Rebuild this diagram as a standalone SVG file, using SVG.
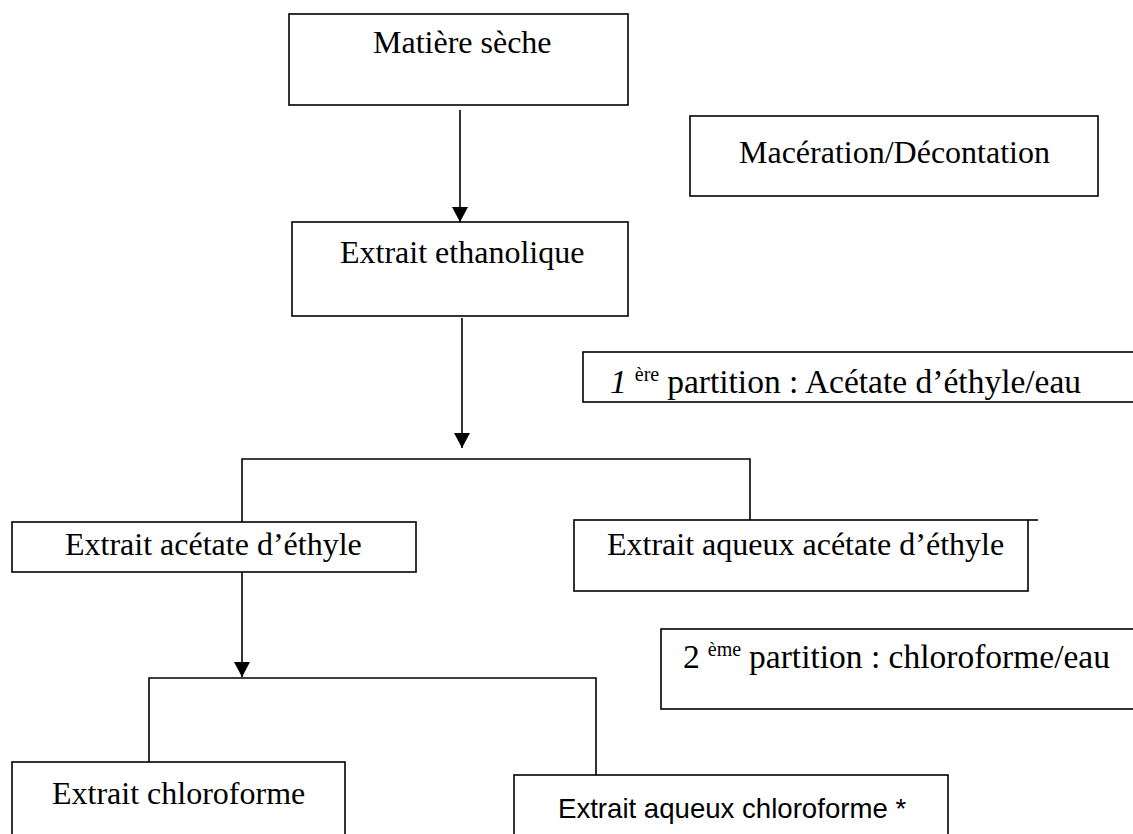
<svg xmlns="http://www.w3.org/2000/svg" width="1133" height="834" viewBox="0 0 1133 834">
<style>
.box{fill:#fff;stroke:#000;stroke-width:1.6}
.ln{fill:none;stroke:#000;stroke-width:1.6}
.t{font-family:"Liberation Serif","Times New Roman",serif;font-size:32px;fill:#000}
.p{font-family:"Liberation Serif","Times New Roman",serif;font-size:33.5px;fill:#000}
.s{font-size:20px}
.c{font-family:"Liberation Sans",Arial,sans-serif;font-size:27.6px;fill:#000}
</style>
<defs>
<marker id="ah" markerWidth="15" markerHeight="16" refX="15" refY="8" orient="auto" markerUnits="userSpaceOnUse">
<path d="M0,0 L15,8 L0,16 Z" fill="#000"/>
</marker>
</defs>
<rect width="1133" height="834" fill="#fff"/>
<g id="connectors">
<line class="ln" x1="460" y1="110" x2="460" y2="222" marker-end="url(#ah)"/>
<line class="ln" x1="462" y1="318" x2="462" y2="448" marker-end="url(#ah)"/>
<polyline class="ln" points="242,522 242,459 750,459 750,520"/>
<line class="ln" x1="242" y1="572" x2="242" y2="677" marker-end="url(#ah)"/>
<polyline class="ln" points="149,762 149,678 596,678 596,775"/>
</g>
<g id="n-matiere">
<rect class="box" x="289" y="14" width="339" height="91"/>
<text class="t" x="373" y="53">Matière sèche</text>
</g>
<g id="n-maceration">
<rect class="box" x="690" y="116" width="408" height="80"/>
<text class="t" x="739" y="163">Macération/Décontation</text>
</g>
<g id="n-ethanolique">
<rect class="box" x="292" y="222" width="336" height="94"/>
<text class="t" x="340" y="263">Extrait ethanolique</text>
</g>
<g id="n-partition1">
<rect class="box" x="583" y="352" width="560" height="50"/>
<text class="p" x="610" y="393"><tspan font-style="italic">1</tspan><tspan class="s" dx="8" dy="-12">ère</tspan><tspan dx="8" dy="12">partition : Acétate d’éthyle/eau</tspan></text>
</g>
<g id="n-acetate">
<rect class="box" x="12" y="522" width="404" height="50"/>
<text class="t" x="65" y="555">Extrait acétate d’éthyle</text>
</g>
<g id="n-aqueux-acetate">
<rect class="box" x="574" y="520" width="454" height="71"/>
<line class="ln" x1="1028" y1="520" x2="1038" y2="520"/>
<text class="t" x="607" y="555">Extrait aqueux acétate d’éthyle</text>
</g>
<g id="n-partition2">
<rect class="box" x="661" y="629" width="480" height="80"/>
<text class="p" x="683" y="668">2<tspan class="s" dx="8" dy="-12">ème</tspan><tspan dx="8" dy="12">partition : chloroforme/eau</tspan></text>
</g>
<g id="n-chloroforme">
<rect class="box" x="12" y="762" width="333" height="90"/>
<text class="t" x="52" y="804">Extrait chloroforme</text>
</g>
<g id="n-aqueux-chloroforme">
<rect class="box" x="514" y="775" width="434" height="80"/>
<text class="c" x="558" y="818">Extrait aqueux chloroforme *</text>
</g>
</svg>
